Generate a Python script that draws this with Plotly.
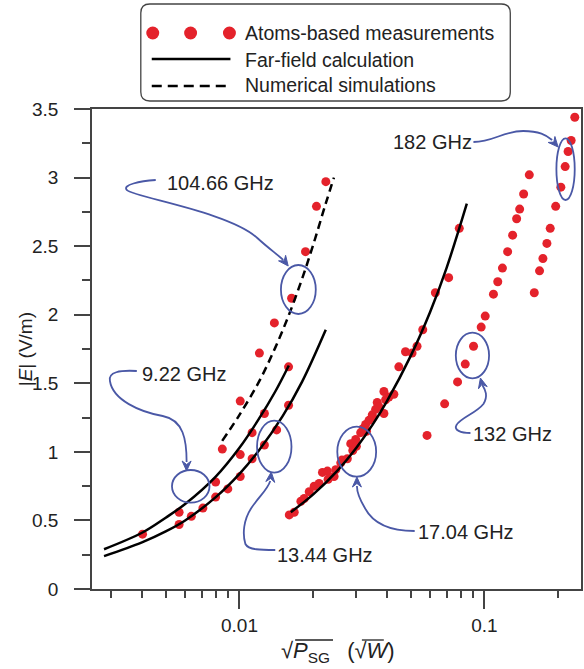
import math
import plotly.graph_objects as go

# ---------------- data ----------------
# Atoms-based measurements
x_922 = [0.00402, 0.00567, 0.00799, 0.01007, 0.01126, 0.01264, 0.01586]
y_922 = [0.40, 0.56, 0.78, 0.98, 1.14, 1.28, 1.62]

x_1344 = [0.00567, 0.00636, 0.00709, 0.00799, 0.00896, 0.01007, 0.01126, 0.01264, 0.01418, 0.01586]
y_1344 = [0.47, 0.53, 0.59, 0.67, 0.73, 0.82, 0.95, 1.05, 1.16, 1.34]

x_10466 = [0.00851, 0.01007, 0.01206, 0.01388, 0.01632, 0.0186, 0.02062, 0.02252]
y_10466 = [1.02, 1.37, 1.72, 1.94, 2.12, 2.46, 2.79, 2.97]

x_1704 = [0.01597, 0.01673, 0.01781, 0.01837, 0.01926, 0.02018, 0.02114, 0.02181, 0.02285,
          0.0230, 0.02433, 0.02472, 0.02591, 0.0262, 0.02755, 0.02845, 0.0290, 0.02981, 0.0300,
          0.03124, 0.0320, 0.03273, 0.0330, 0.03377, 0.03483, 0.0350, 0.03595, 0.0365, 0.03708,
          0.03886, 0.03886, 0.0395, 0.04072, 0.04267, 0.04471, 0.0476, 0.05064, 0.05306,
          0.05598, 0.06304, 0.07141, 0.07892]
y_1704 = [0.54, 0.56, 0.64, 0.66, 0.71, 0.75, 0.77, 0.85, 0.86,
          0.80, 0.82, 0.87, 0.92, 0.94, 0.95, 1.06, 1.01, 1.09, 1.04,
          1.14, 1.17, 1.20, 1.15, 1.23, 1.27, 1.25, 1.31, 1.36, 1.33,
          1.28, 1.44, 1.38, 1.40, 1.42, 1.62, 1.73, 1.72, 1.77,
          1.89, 2.16, 2.27, 2.63]

x_132 = [0.05828, 0.06877, 0.07766, 0.08347, 0.09023, 0.09696, 0.1007, 0.1088, 0.1133, 0.1184,
         0.1243, 0.1303, 0.1353, 0.1392, 0.1445, 0.1524]
y_132 = [1.12, 1.35, 1.51, 1.64, 1.77, 1.91, 1.99, 2.15, 2.24, 2.34,
         2.46, 2.58, 2.70, 2.77, 2.88, 3.02]

x_182 = [0.1597, 0.1678, 0.1732, 0.1798, 0.1855, 0.1953, 0.2050, 0.2135, 0.2195, 0.2258, 0.2337]
y_182 = [2.16, 2.32, 2.41, 2.52, 2.63, 2.79, 2.93, 3.08, 3.19, 3.27, 3.44]

# Far-field calculations
ff_922_x = [0.0028, 0.004, 0.005, 0.006, 0.008, 0.010, 0.012, 0.014, 0.0159]
ff_922_y = [0.29, 0.41, 0.52, 0.62, 0.82, 1.03, 1.24, 1.44, 1.63]
ff_1344_x = [0.0028, 0.004, 0.005, 0.006, 0.008, 0.010, 0.012, 0.015, 0.018, 0.0225]
ff_1344_y = [0.24, 0.34, 0.42, 0.50, 0.67, 0.84, 1.01, 1.26, 1.51, 1.89]
ff_1704_x = [0.0162, 0.020, 0.025, 0.030, 0.035, 0.040, 0.050, 0.060, 0.070, 0.0847]
ff_1704_y = [0.56, 0.69, 0.86, 1.03, 1.20, 1.37, 1.70, 2.02, 2.34, 2.81]
# Numerical simulation
sim_10466_x = [0.0085, 0.010, 0.012, 0.014, 0.016, 0.018, 0.020, 0.0224, 0.0243]
sim_10466_y = [1.08, 1.27, 1.51, 1.76, 2.01, 2.26, 2.51, 2.80, 3.00]

y_tickvals = [0, 0.5, 1, 1.5, 2, 2.5, 3, 3.5]
y_ticktext = ["0", "0.5", "1", "1.5", "2", "2.5", "3", "3.5"]
x_tickvals = [0.01, 0.1]
x_ticktext = ["0.01", "0.1"]
x_minor = [0.003, 0.004, 0.005, 0.006, 0.007, 0.008, 0.009,
           0.02, 0.03, 0.04, 0.05, 0.06, 0.07, 0.08, 0.09, 0.2]

labels = ["104.66 GHz", "182 GHz", "9.22 GHz", "13.44 GHz", "17.04 GHz", "132 GHz"]

# ---------------- style ----------------
RED = "#e4222b"
BLUE = "#4a58a6"
TXT = "#222222"
FONT = "Arial, Liberation Sans, sans-serif"
W, H = 584, 669
L, R, T, B = 92, 1, 109, 80
PW, PH = W - L - R, H - T - B


def px(x, y):
    return (x - L) / PW, (T + PH - y) / PH


def path(cmds):
    out = []
    for c in cmds:
        if isinstance(c, str):
            out.append(c)
        else:
            a, b = px(*c)
            out.append(f"{a:.5f},{b:.5f}")
    return " ".join(out)


fig = go.Figure()

mk = dict(color=RED, size=9)
for xs, ys in [(x_922, y_922), (x_1344, y_1344), (x_10466, y_10466),
               (x_1704, y_1704), (x_132, y_132), (x_182, y_182)]:
    fig.add_trace(go.Scatter(x=xs, y=ys, mode="markers", marker=mk,
                             showlegend=False, cliponaxis=False))

for xs, ys in [(ff_922_x, ff_922_y), (ff_1344_x, ff_1344_y), (ff_1704_x, ff_1704_y)]:
    fig.add_trace(go.Scatter(x=xs, y=ys, mode="lines", line=dict(color="black", width=2.5, shape="spline"),
                             showlegend=False))
fig.add_trace(go.Scatter(x=sim_10466_x, y=sim_10466_y, mode="lines",
                         line=dict(color="black", width=2.5, dash="8px,5px", shape="spline"),
                         showlegend=False))

shapes = []
annotations = []

# ---- custom legend ----
lx0, ly0, lx1, ly1, rr = 141, 4, 512, 101, 9
shapes.append(dict(type="path", xref="paper", yref="paper", layer="above",
                   path=path(["M", (lx0 + rr, ly0), "L", (lx1 - rr, ly0), "Q", (lx1, ly0), (lx1, ly0 + rr),
                              "L", (lx1, ly1 - rr), "Q", (lx1, ly1), (lx1 - rr, ly1),
                              "L", (lx0 + rr, ly1), "Q", (lx0, ly1), (lx0, ly1 - rr),
                              "L", (lx0, ly0 + rr), "Q", (lx0, ly0), (lx0 + rr, ly0), "Z"]),
                   line=dict(color="#444", width=1.3), fillcolor="white"))
for cx in (153, 191, 230):
    a0, b0 = px(cx - 6.5, 33 + 6.5)
    a1, b1 = px(cx + 6.5, 33 - 6.5)
    shapes.append(dict(type="circle", xref="paper", yref="paper", x0=a0, y0=b0, x1=a1, y1=b1,
                       line=dict(width=0), fillcolor=RED, layer="above"))
a0, b0 = px(152, 59)
a1, b1 = px(231, 59)
shapes.append(dict(type="line", xref="paper", yref="paper", x0=a0, y0=b0, x1=a1, y1=b1,
                   line=dict(color="black", width=2.5), layer="above"))
a0, b0 = px(152, 86)
a1, b1 = px(231, 86)
shapes.append(dict(type="line", xref="paper", yref="paper", x0=a0, y0=b0, x1=a1, y1=b1,
                   line=dict(color="black", width=2.5, dash="10px,6px"), layer="above"))
for txt, yy in [("Atoms-based measurements", 33), ("Far-field calculation", 60), ("Numerical simulations", 85)]:
    a, b = px(244, yy)
    annotations.append(dict(text=txt, x=a, y=b, xref="paper", yref="paper", xanchor="left",
                            yanchor="middle", showarrow=False, font=dict(size=19.5, color=TXT, family=FONT)))

# ---- frequency callouts ----
ellipses = [(281.7, 265, 316.7, 314), (558.3, 138.3, 576.7, 200), (172.3, 470, 210, 502.7),
            (257.7, 420.7, 292.3, 472.7), (338.3, 426.7, 377.3, 476.7), (457.3, 332.7, 490.7, 378.3)]
for (ex0, ey0, ex1, ey1) in ellipses:
    a0, b0 = px(ex0, ey1)
    a1, b1 = px(ex1, ey0)
    shapes.append(dict(type="circle", xref="paper", yref="paper", x0=a0, y0=b0, x1=a1, y1=b1,
                       line=dict(color=BLUE, width=1.8)))

curves = [
    ["M", (156, 180), "C", (140, 181), (122, 185), (127, 190), "C", (133, 197), (230, 212), (258, 238),
     "C", (270, 249), (279, 255), (284, 260)],
    ["M", (475, 142), "C", (495, 142), (505, 131), (525, 131), "C", (541, 131), (548, 135), (554, 140)],
    ["M", (137, 371), "C", (120, 370), (108, 372), (110, 381), "C", (113, 400), (140, 412), (163, 416),
     "C", (184, 420), (187, 440), (187, 462)],
    ["M", (276, 550), "C", (262, 550), (249, 550), (246, 544), "C", (243, 534), (244, 520), (252, 508),
     "C", (260, 496), (268, 490), (271, 481)],
    ["M", (416, 531), "C", (395, 531), (375, 525), (366, 508), "C", (360, 498), (358, 492), (358, 486)],
    ["M", (472, 433), "C", (462, 433), (455, 430), (458, 425), "C", (462, 418), (478, 413), (485, 404),
     "C", (490, 396), (487, 390), (484, 385)],
]
for c in curves:
    shapes.append(dict(type="path", xref="paper", yref="paper", path=path(c),
                       line=dict(color=BLUE, width=1.8)))

heads = [((289, 266), (282, 257)), ((560, 147), (553, 139)), ((187, 471), (187, 461)),
         ((272, 472), (271, 482)), ((358, 477), (358, 487)), ((482, 378), (484, 386))]
for (tip, tail) in heads:
    dx, dy = tip[0] - tail[0], tip[1] - tail[1]
    n = math.hypot(dx, dy)
    ux, uy = dx / n, dy / n
    vx, vy = -uy, ux
    hl, hw, notch = 10, 4.5, 6.5
    p1 = (tip[0] - ux * hl + vx * hw, tip[1] - uy * hl + vy * hw)
    p2 = (tip[0] - ux * notch, tip[1] - uy * notch)
    p3 = (tip[0] - ux * hl - vx * hw, tip[1] - uy * hl - vy * hw)
    shapes.append(dict(type="path", xref="paper", yref="paper",
                       path=path(["M", tip, "L", p1, "L", p2, "L", p3, "Z"]),
                       line=dict(color=BLUE, width=1), fillcolor=BLUE))

label_pos = [(165, 183), (392, 142), (140, 374), (276, 555), (417, 532), (473, 434)]
for txt, (lx, ly) in zip(labels, label_pos):
    a, b = px(lx, ly)
    annotations.append(dict(text=txt, x=a, y=b, xref="paper", yref="paper", xanchor="left",
                            yanchor="middle", showarrow=False, font=dict(size=20, color=TXT, family=FONT)))

# ---- axis titles ----
a, b = px(25, 349)
annotations.append(dict(text="|<i>E</i>| (V/m)", x=a, y=b, xref="paper", yref="paper", textangle=-90,
                        showarrow=False, xanchor="center", yanchor="middle",
                        font=dict(size=19, color=TXT, family=FONT)))
a, b = px(339, 652)
annotations.append(dict(
    text="√<i>P</i><sub>SG</sub>\u2002 (√<i>W</i>)",
    x=a, y=b, xref="paper", yref="paper", showarrow=False, xanchor="center", yanchor="middle",
    font=dict(size=22, color=TXT, family=FONT)))
for (ox0, ox1) in [(296, 334), (363, 385)]:
    a0, b0 = px(ox0, 640)
    a1, b1 = px(ox1, 640)
    shapes.append(dict(type="line", xref="paper", yref="paper", x0=a0, y0=b0, x1=a1, y1=b1,
                       line=dict(color=TXT, width=1.3)))

fig.update_layout(
    width=W, height=H, margin=dict(l=L, r=R, t=T, b=B),
    paper_bgcolor="white", plot_bgcolor="white",
    shapes=shapes, annotations=annotations, showlegend=False,
    font=dict(family=FONT, color=TXT),
    xaxis=dict(type="log", range=[-2.602, -0.606], tickmode="array", tickvals=x_tickvals,
               ticktext=x_ticktext, ticks="outside", ticklen=18, tickwidth=1.5, tickcolor="#444",
               minor=dict(tickmode="array", tickvals=x_minor, ticks="outside", ticklen=7,
                          tickwidth=1.5, tickcolor="#444", showgrid=False),
               showline=True, linecolor="#444", linewidth=1.5, mirror=True, showgrid=False,
               zeroline=False, tickfont=dict(size=19, color=TXT)),
    yaxis=dict(range=[0, 3.5], tickmode="array", tickvals=y_tickvals, ticktext=y_ticktext,
               ticks="outside", ticklen=16, tickwidth=1.5, tickcolor="#444", ticklabelstandoff=12,
               minor=dict(dtick=0.25, ticks="outside", ticklen=8, tickwidth=1.5, tickcolor="#444",
                          showgrid=False),
               showline=True, linecolor="#444", linewidth=1.5, mirror=True, showgrid=False,
               zeroline=False, tickfont=dict(size=19, color=TXT)),
)

fig.write_html("out.html")
